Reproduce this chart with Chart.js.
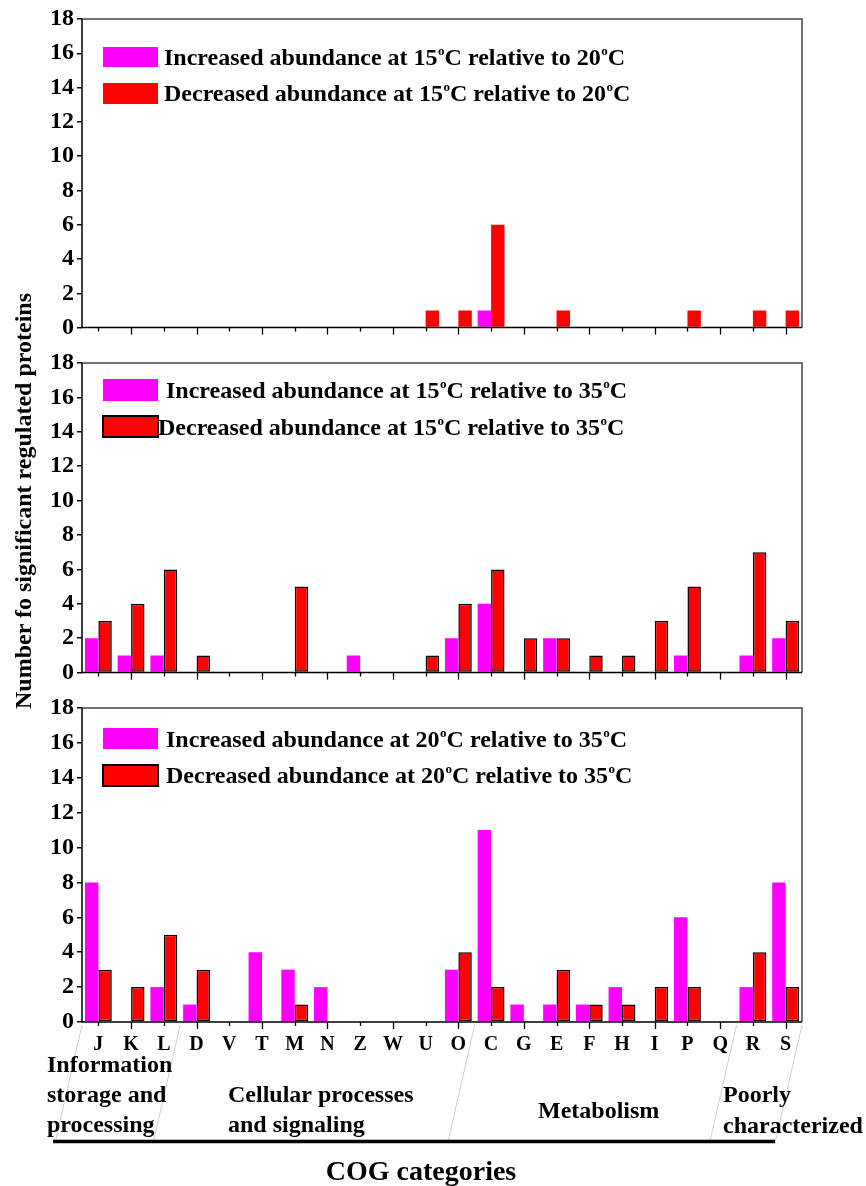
<!DOCTYPE html>
<html><head><meta charset="utf-8">
<script src="https://cdn.jsdelivr.net/npm/chart.js@4.4.0/dist/chart.umd.min.js"></script>
<style>
html,body{margin:0;padding:0;background:#fff;width:866px;height:1186px;overflow:hidden;position:relative;font-family:"Liberation Serif",serif;}
canvas{position:absolute;left:0;}
#ytitle{position:absolute;font-weight:bold;font-size:24px;white-space:nowrap;left:23px;top:501px;transform:translate(-50%,-50%) rotate(-90deg);color:#000;line-height:1;}
</style></head>
<body>
<canvas id="ch1" width="866" height="345" style="top:0"></canvas>
<canvas id="ch2" width="866" height="345" style="top:345px"></canvas>
<canvas id="ch3" width="866" height="496" style="top:690px"></canvas>
<div id="ytitle">Number fo significant regulated proteins</div>
<script>
// ---- data ----
const categories = ['J','K','L','D','V','T','M','N','Z','W','U','O','C','G','E','F','H','I','P','Q','R','S'];
const inc15vs20 = [0,0,0,0,0,0,0,0,0,0,0,0,1,0,0,0,0,0,0,0,0,0];
const dec15vs20 = [0,0,0,0,0,0,0,0,0,0,1,1,6,0,1,0,0,0,1,0,1,1];
const inc15vs35 = [2,1,1,0,0,0,0,0,1,0,0,2,4,0,2,0,0,0,1,0,1,2];
const dec15vs35 = [3,4,6,1,0,0,5,0,0,0,1,4,6,2,2,1,1,3,5,0,7,3];
const inc20vs35 = [8,0,2,1,0,4,3,2,0,0,0,3,11,1,1,1,2,0,6,0,2,8];
const dec20vs35 = [3,2,5,3,0,0,1,0,0,0,0,4,2,0,3,1,1,2,2,0,4,2];
const labels15vs20 = ['Increased abundance at 15°C relative to 20°C','Decreased abundance at 15°C relative to 20°C'];
const labels15vs35 = ['Increased abundance at 15°C relative to 35°C','Decreased abundance at 15°C relative to 35°C'];
const labels20vs35 = ['Increased abundance at 20°C relative to 35°C','Decreased abundance at 20°C relative to 35°C'];
const groupNames = [['Information','storage and','processing'],['Cellular processes','and signaling'],['Metabolism'],['Poorly','characterized']];
const groupStarts = [0,3,12,20,22];
const xTitle = 'COG categories';
const yMin = 0, yMax = 18, yStep = 2;

const PINK = '#FF00FF', RED = '#FF0000';
const FONT = '"Liberation Serif", "Times New Roman", serif';

function drawRich(ctx, text, x, y) {
  const parts = text.split('°');
  ctx.textBaseline = 'alphabetic'; ctx.textAlign = 'left'; ctx.fillStyle = '#000';
  parts.forEach((p, i) => {
    ctx.font = 'bold 24px ' + FONT;
    ctx.fillText(p, x, y); x += ctx.measureText(p).width;
    if (i < parts.length - 1) {
      ctx.font = 'bold 13px ' + FONT;
      ctx.fillText('o', x + 0.5, y - 10); x += ctx.measureText('o').width + 0.5;
    }
  });
}

function makePlugin(cfg) {
  return {
    id: 'deco' + cfg.id,
    afterDatasetsDraw(chart) {
      const ctx = chart.ctx, a = chart.chartArea, xs = chart.scales.x;
      ctx.save();
      // x tick marks
      ctx.strokeStyle = '#000'; ctx.lineWidth = 1.3;
      categories.forEach((c, i) => {
        const x = Math.round(xs.getPixelForValue(i)) + 0.5;
        ctx.beginPath(); ctx.moveTo(x, a.bottom); ctx.lineTo(x, a.bottom + (i % 2 ? 7 : 4)); ctx.stroke();
      });
      // frame
      ctx.lineWidth = 1.5;
      ctx.strokeStyle = '#444';
      ctx.beginPath(); ctx.moveTo(a.left, a.top); ctx.lineTo(a.right, a.top); ctx.lineTo(a.right, a.bottom); ctx.stroke();
      ctx.strokeStyle = '#000';
      ctx.beginPath(); ctx.moveTo(a.left, a.top); ctx.lineTo(a.left, a.bottom); ctx.lineTo(a.right, a.bottom); ctx.stroke();
      // legend
      const ds = chart.data.datasets;
      cfg.legend.forEach((L, k) => {
        ctx.fillStyle = ds[k].backgroundColor;
        ctx.fillRect(103, L.y0, 55, L.y1 - L.y0);
        if (cfg.boxBorder && k === 1) {
          ctx.strokeStyle = '#000'; ctx.lineWidth = 2;
          ctx.strokeRect(103, L.y0, 55, L.y1 - L.y0);
        }
        drawRich(ctx, ds[k].label, L.tx, L.base);
      });
      if (cfg.bottom) {
        const off = 690;
        // diagonal separators
        ctx.strokeStyle = '#cfcfcf'; ctx.lineWidth = 1;
        groupStarts.forEach(g => {
          let x;
          if (g === 0) x = a.left; else if (g >= categories.length) x = a.right;
          else x = (xs.getPixelForValue(g - 1) + xs.getPixelForValue(g)) / 2;
          ctx.beginPath(); ctx.moveTo(x, 1025 - off); ctx.lineTo(x - 27, 1143 - off); ctx.stroke();
        });
        // group labels
        ctx.fillStyle = '#000'; ctx.font = 'bold 24px ' + FONT; ctx.textAlign = 'left'; ctx.textBaseline = 'alphabetic';
        const gx = [47, 228, 538, 723];
        const gy = [[1072, 1102, 1132], [1102, 1132], [1118], [1102, 1133]];
        groupNames.forEach((lines, gi) => lines.forEach((t, li) => ctx.fillText(t, gx[gi], gy[gi][li] - off)));
        // thick line
        ctx.strokeStyle = '#000'; ctx.lineWidth = 3.5;
        ctx.beginPath(); ctx.moveTo(53, 1141.5 - off); ctx.lineTo(775, 1141.5 - off); ctx.stroke();
        // x title
        ctx.font = 'bold 28px ' + FONT; ctx.textAlign = 'center';
        ctx.fillText(xTitle, 421, 1180 - off);
      }
      ctx.restore();
    }
  };
}

function makeChart(id, inc, dec, labs, cfg) {
  const redBorder = cfg.boxBorder ? 1.5 : 0;
  return new Chart(document.getElementById(id), {
    type: 'bar',
    data: {
      labels: categories,
      datasets: [
        { label: labs[0], data: inc, backgroundColor: PINK, borderWidth: 0 },
        { label: labs[1], data: dec, backgroundColor: RED, borderColor: '#000',
          borderWidth: c => (c.raw ? redBorder : 0), borderSkipped: false }
      ]
    },
    options: {
      responsive: false, animation: false,
      layout: { padding: { left: 0, right: 64, top: cfg.top, bottom: 0 } },
      categoryPercentage: 0.82, barPercentage: 1.0,
      plugins: { legend: { display: false }, tooltip: { enabled: false } },
      scales: {
        x: {
          type: 'category', offset: true,
          grid: { display: false, drawTicks: false },
          border: { display: false },
          ticks: { display: cfg.bottom, color: '#000', padding: 11, maxRotation: 0, autoSkip: false,
                   font: { family: FONT, size: 20, weight: 'bold' } },
          afterFit: s => { s.height = cfg.xh; }
        },
        y: {
          min: yMin, max: yMax,
          grid: { display: true, drawOnChartArea: false, drawTicks: true, tickLength: 5, color: '#000', lineWidth: 1.5 },
          border: { display: false },
          ticks: { stepSize: yStep, color: '#000', padding: 3, font: { family: FONT, size: 24, weight: 'bold' } },
          afterFit: s => { s.width = 82; }
        }
      }
    },
    plugins: [makePlugin(cfg)]
  });
}

makeChart('ch1', inc15vs20, dec15vs20, labels15vs20, {
  id: 1, top: 19, xh: 12, bottom: false, boxBorder: false,
  legend: [{ y0: 47, y1: 67, tx: 164, base: 65 }, { y0: 83, y1: 104, tx: 164, base: 101 }]
});
makeChart('ch2', inc15vs35, dec15vs35, labels15vs35, {
  id: 2, top: 18, xh: 13, bottom: false, boxBorder: true,
  legend: [{ y0: 34, y1: 56, tx: 166, base: 53 }, { y0: 71, y1: 92, tx: 158, base: 90 }]
});
makeChart('ch3', inc20vs35, dec20vs35, labels20vs35, {
  id: 3, top: 18, xh: 164, bottom: true, boxBorder: true,
  legend: [{ y0: 38, y1: 59, tx: 166, base: 57 }, { y0: 75, y1: 96, tx: 166, base: 93 }]
});
</script>
</body></html>
